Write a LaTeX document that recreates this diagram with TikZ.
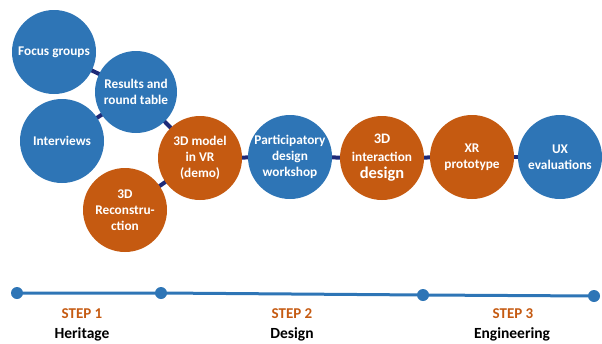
\documentclass[tikz,border=0pt]{standalone}
\usepackage{fontspec}
\setmainfont{Carlito}
\usetikzlibrary{backgrounds}
\definecolor{cblue}{HTML}{2E75B6}
\definecolor{corange}{HTML}{C55A11}
\definecolor{cnavy}{HTML}{1E2A78}
\begin{document}
\begin{tikzpicture}[x=1pt,y=-1pt,
  bub/.style={circle,minimum size=84pt,inner sep=0pt,align=center,text=white,
    font=\fontsize{13.3}{16}\selectfont\bfseries},
  bluebub/.style={bub,fill=cblue},
  orbub/.style={bub,fill=corange},
  link/.style={cnavy,line width=4pt},
  dot/.style={circle,fill=cblue,minimum size=12pt,inner sep=0pt},
  steplab/.style={text=corange,font=\fontsize{15}{17}\selectfont\bfseries},
  phaselab/.style={text=black,font=\fontsize{15.5}{17}\selectfont\bfseries}]
\useasboundingbox (0,0) rectangle (602,343);
\node[bluebub] (fg) at (54,52) {Focus groups};
\node[bluebub,minimum size=82pt] (rt) at (136,92) {Results and\\round table};
\node[bluebub] (iv) at (62,141) {Interviews};
\node[orbub] (rc) at (125,210) {3D\\Reconstru-\\ction};
\node[orbub] (vr) at (200,158) {3D model\\in VR\\(demo)};
\node[bluebub] (pd) at (290,157) {Participatory\\design\\workshop};
\node[orbub] (id) at (382,158) {{\fontsize{14.5}{18}\selectfont 3D}\\[2pt]interaction\\[1pt]{\fontsize{16.5}{18}\selectfont design}};
\node[orbub] (xr) at (472,157) {XR\\prototype};
\node[bluebub] (ux) at (560,157) {UX\\evaluations};
\begin{scope}[on background layer]
\draw[link] (fg.center) -- (rt.center);
\draw[link] (iv.center) -- (rt.center);
\draw[link] (rt.center) -- (vr.center);
\draw[link] (rc.center) -- (vr.center);
\draw[link] (vr.center) -- (pd.center);
\draw[link] (pd.center) -- (id.center);
\draw[link] (id.center) -- (xr.center);
\draw[link] (xr.center) -- (ux.center);
\end{scope}
\node[dot] (d1) at (17,293) {};
\node[dot] (d2) at (161,293) {};
\node[dot] (d3) at (423,295) {};
\node[dot] (d4) at (594,296) {};
\begin{scope}[on background layer]
\draw[cblue,line width=3pt] (d1.center) -- (d2.center) -- (d3.center) -- (d4.center);
\end{scope}
\node[steplab] (s1) at (82,314) {STEP 1};
\node[phaselab] (p1) at (82,334) {Heritage};
\node[steplab] (s2) at (292,314) {STEP 2};
\node[phaselab] (p2) at (292,334) {Design};
\node[steplab] (s3) at (513,314) {STEP 3};
\node[phaselab] (p3) at (512,334) {Engineering};
\end{tikzpicture}
\end{document}
